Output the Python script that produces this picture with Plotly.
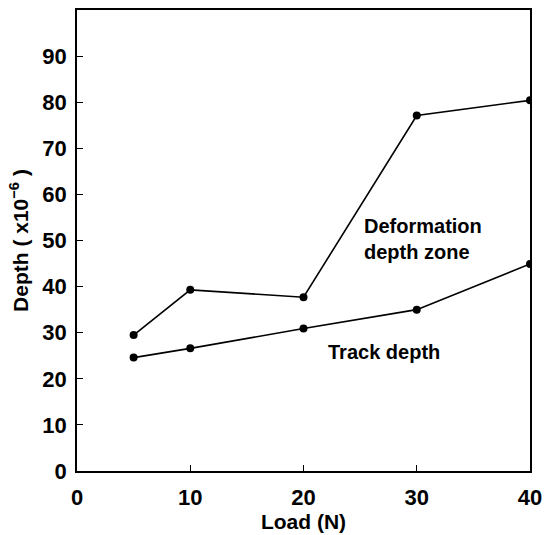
import plotly.graph_objects as go

load = [5, 10, 20, 30, 40]
deformation_zone = [29.5, 39.3, 37.7, 77.1, 80.4]
track_depth = [24.6, 26.6, 30.9, 35.0, 44.9]

x_ticks = [0, 10, 20, 30, 40]
y_ticks = [0, 10, 20, 30, 40, 50, 60, 70, 80, 90]

FONT = "Liberation Sans"

fig = go.Figure()
for ys in (deformation_zone, track_depth):
    fig.add_trace(go.Scatter(
        x=load, y=ys, mode="lines+markers",
        line=dict(color="black", width=1.6),
        marker=dict(color="black", size=8),
        showlegend=False, hoverinfo="skip"))

fig.add_annotation(x=25.2, y=56.0, xref="x", yref="y", xanchor="left", yanchor="top",
                   text="Deformation<br>depth zone", showarrow=False, align="left",
                   font=dict(family=FONT, size=20, color="black", weight="bold"))
fig.add_annotation(x=22.0, y=28.6, xref="x", yref="y", xanchor="left", yanchor="top",
                   text="Track depth", showarrow=False, align="left",
                   font=dict(family=FONT, size=20, color="black", weight="bold"))

axis_common = dict(
    showgrid=False, zeroline=False, showline=True, linecolor="black", linewidth=1.5,
    mirror=True, ticks="inside", ticklen=6, tickwidth=1.2, tickcolor="black",
    tickfont=dict(family=FONT, size=22, color="black", weight="bold"),
)

fig.update_xaxes(range=[0, 40], tickvals=x_ticks, ticktext=[str(v) for v in x_ticks],
                 title=dict(text="Load (N)", standoff=0,
                            font=dict(family=FONT, size=21, color="black", weight="bold")),
                 ticklabelstandoff=6, **axis_common)
fig.update_yaxes(range=[0, 100], tickvals=y_ticks, ticktext=[str(v) for v in y_ticks],
                 title=dict(text="Depth ( x10<sup>−6</sup> )", standoff=8,
                            font=dict(family=FONT, size=21, color="black", weight="bold")),
                 ticklabelstandoff=4, **axis_common)

fig.update_layout(
    width=551, height=535,
    margin=dict(l=77, r=21, t=8, b=64),
    plot_bgcolor="white", paper_bgcolor="white",
)

fig.write_html("out.html")
